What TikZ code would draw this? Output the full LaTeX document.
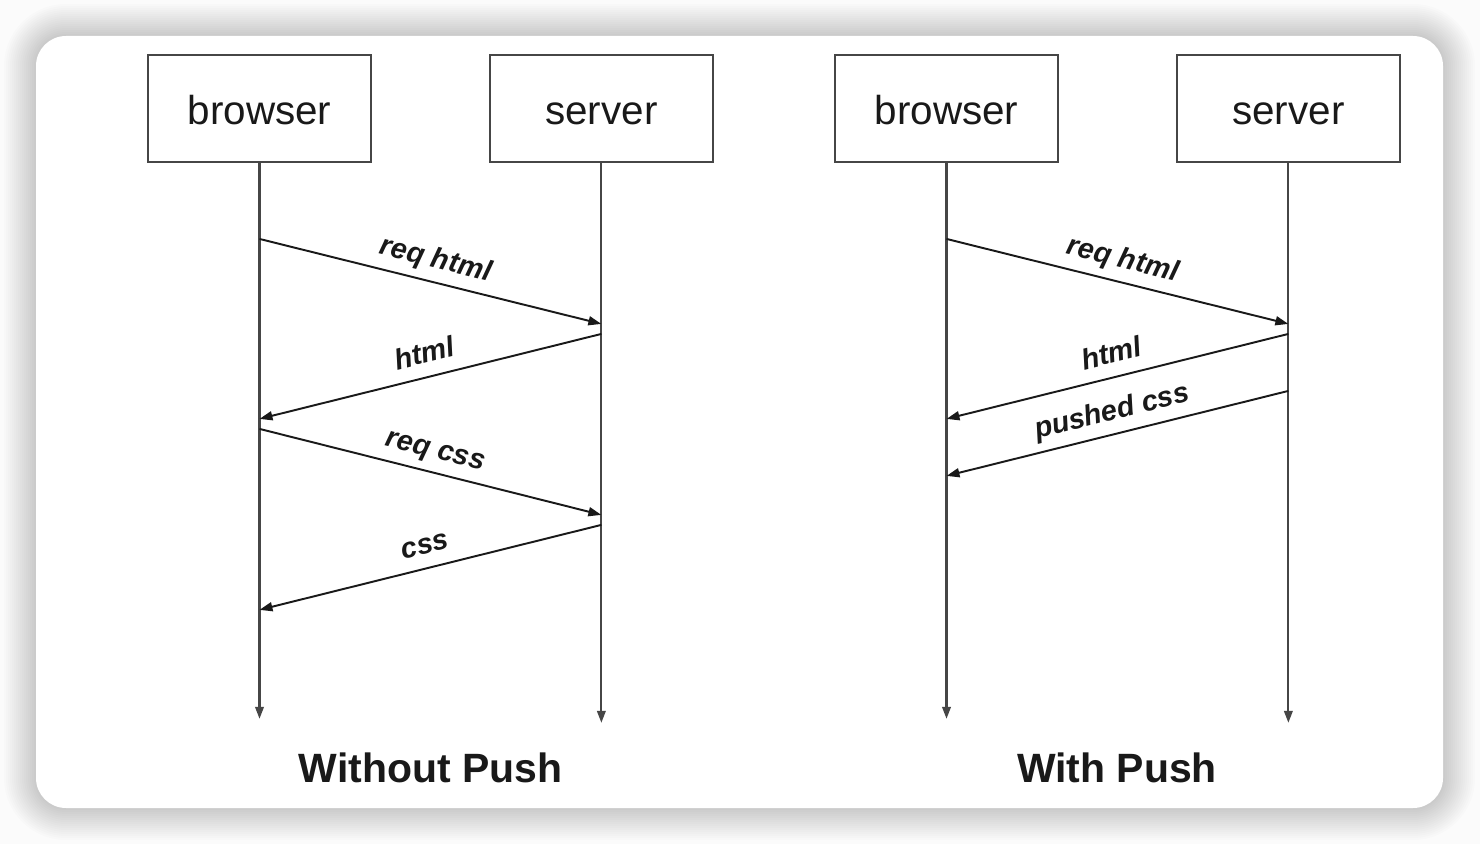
\documentclass[tikz,border=0pt]{standalone}
\usepackage{fontspec}
\setmainfont{Liberation Sans}
\usetikzlibrary{arrows.meta, positioning, calc}
\definecolor{linegray}{RGB}{70,70,70}
\definecolor{inkblack}{RGB}{25,25,25}
\definecolor{pagegray}{RGB}{251,251,251}

\begin{document}
\begin{tikzpicture}[
    x=0.02cm, y=-0.02cm,
    every node/.style={text=inkblack},
    actor/.style={
      rectangle, draw=linegray, line width=1.1pt, fill=white,
      minimum width=4.46cm, minimum height=2.14cm, inner sep=0pt,
      text height=18pt, text depth=0pt,
      font=\fontsize{23}{27}\selectfont
    },
    lifeline/.style={draw=linegray, line width=1.25pt,
      -{Triangle[length=2.4mm, width=1.7mm]}},
    msg/.style={draw=inkblack, line width=1.1pt,
      -{Triangle[length=2.6mm, width=1.8mm]}},
    lbl/.style={midway, above, sloped, inner sep=2.5pt,
      text height=12pt, text depth=5pt,
      font=\fontsize{16.4}{19}\selectfont\bfseries\itshape},
    caption/.style={anchor=base, font=\fontsize{23.3}{27}\selectfont\bfseries}
  ]
    \useasboundingbox (0,0) rectangle (1480,844);
    \fill[pagegray] (0,0) rectangle (1480,844);
    % soft shadow and the white card
    \foreach \d in {1,...,16}
      \fill[black, opacity=0.01, rounded corners={0.6cm+\d*0.04cm}]
        (36-2*\d,36-2*\d) rectangle (1443+2*\d,808+2*\d);
    \fill[white, rounded corners=0.6cm] (36,36) rectangle (1443,808);

    % without push
    \node[actor] (lbrowser) at (259.5,108.5) {browser};
    \node[actor, right=2.34cm of lbrowser] (lserver) {server};
    \coordinate (lbrowser-end) at ([yshift=-11.12cm]lbrowser.south);
    \coordinate (lserver-end) at ([yshift=-11.2cm]lserver.south);
    \draw[lifeline] (lbrowser.south) -- (lbrowser-end);
    \draw[lifeline] (lserver.south) -- (lserver-end);

    \coordinate (lb1) at ([yshift=-1.52cm]lbrowser.south);
    \coordinate (ls1) at ([yshift=-3.22cm]lserver.south);
    \coordinate (ls2) at ([yshift=-3.42cm]lserver.south);
    \coordinate (lb2) at ([yshift=-5.12cm]lbrowser.south);
    \coordinate (lb3) at ([yshift=-5.32cm]lbrowser.south);
    \coordinate (ls3) at ([yshift=-7.04cm]lserver.south);
    \coordinate (ls4) at ([yshift=-7.24cm]lserver.south);
    \coordinate (lb4) at ([yshift=-8.94cm]lbrowser.south);

    \draw[msg] (lb1) -- node[lbl] {req html} (ls1);
    \draw[msg] (ls2) -- node[lbl] {html} (lb2);
    \draw[msg] (lb3) -- node[lbl] {req css} (ls3);
    \draw[msg] (ls4) -- node[lbl] {css} (lb4);

    \node[caption] (ltitle) at (430.5,782) {Without Push};

    % with push
    \node[actor] (rbrowser) at (946.5,108.5) {browser};
    \node[actor, right=2.34cm of rbrowser] (rserver) {server};
    \coordinate (rbrowser-end) at ([yshift=-11.12cm]rbrowser.south);
    \coordinate (rserver-end) at ([yshift=-11.2cm]rserver.south);
    \draw[lifeline] (rbrowser.south) -- (rbrowser-end);
    \draw[lifeline] (rserver.south) -- (rserver-end);

    \coordinate (rb1) at ([yshift=-1.52cm]rbrowser.south);
    \coordinate (rs1) at ([yshift=-3.22cm]rserver.south);
    \coordinate (rs2) at ([yshift=-3.42cm]rserver.south);
    \coordinate (rb2) at ([yshift=-5.12cm]rbrowser.south);
    \coordinate (rs3) at ([yshift=-4.56cm]rserver.south);
    \coordinate (rb3) at ([yshift=-6.26cm]rbrowser.south);

    \draw[msg] (rb1) -- node[lbl] {req html} (rs1);
    \draw[msg] (rs2) -- node[lbl] {html} (rb2);
    \draw[msg] (rs3) -- node[lbl] {pushed css} (rb3);

    \node[caption] (rtitle) at (1117,782) {With Push};
\end{tikzpicture}
\end{document}
